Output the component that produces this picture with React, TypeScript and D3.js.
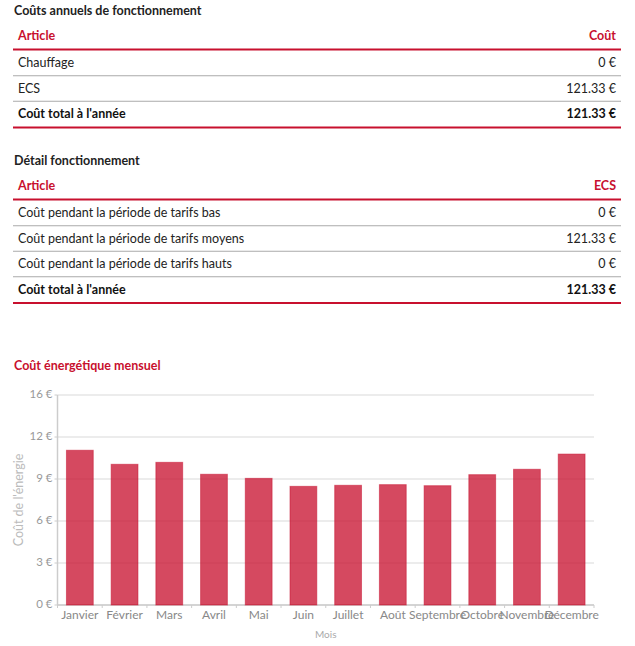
import React, { useEffect, useRef } from "react";
import * as d3 from "d3";

const table1Title = "Coûts annuels de fonctionnement";
const table1Header = ["Article", "Coût"];
const table1Labels = ["Chauffage", "ECS"];
const table1Values = [0, 121.33];
const table1Total = 121.33;

const table2Title = "Détail fonctionnement";
const table2Header = ["Article", "ECS"];
const table2Labels = [
  "Coût pendant la période de tarifs bas",
  "Coût pendant la période de tarifs moyens",
  "Coût pendant la période de tarifs hauts",
];
const table2Values = [0, 121.33, 0];
const table2Total = 121.33;
const totalLabel = "Coût total à l'année";

const chartTitle = "Coût énergétique mensuel";
const months = [
  "Janvier", "Février", "Mars", "Avril", "Mai", "Juin",
  "Juillet", "Août", "Septembre", "Octobre", "Novembre", "Décembre",
];
const monthlyCost = [11.79, 10.72, 10.87, 9.96, 9.65, 9.04, 9.12, 9.17, 9.09, 9.93, 10.34, 11.5];
const yMax = 16;
const yTickCount = 5;
const xAxisLabel = "Mois";
const yAxisLabel = "Coût de l'énergie";

const RED = "#c8102e";
const FONT = "Lato, 'Noto Sans', sans-serif";
const fmtEuro = (v: number) => (v === 0 ? "0 €" : `${v.toFixed(2)} €`);

function Table({ top, title, header, labels, values, total }: any) {
  const x0 = 13, x1 = 621;
  const headerY = top + 25;
  const lineY = headerY + 13.5;
  const rowH = 25.5;
  const rows = labels.map((l: string, i: number) => ({ l, v: values[i] }));
  const totalY = lineY + 13.5 + rows.length * rowH;
  return (
    <g fontFamily={FONT}>
      <text x={14} y={top} dy="0.35em" fontSize={12.5} fontWeight="bold" fill="#222">{title}</text>
      <text x={18} y={headerY} dy="0.35em" fontSize={12.5} fontWeight="bold" fill={RED}>{header[0]}</text>
      <text x={616} y={headerY} dy="0.35em" fontSize={12.5} fontWeight="bold" fill={RED} textAnchor="end">{header[1]}</text>
      <line x1={x0} x2={x1} y1={lineY} y2={lineY} stroke={RED} strokeWidth={2} />
      {rows.map((r: any, i: number) => {
        const cy = lineY + 13.5 + i * rowH;
        return (
          <g key={i}>
            <text x={18} y={cy} dy="0.35em" fontSize={12.5} fill="#222">{r.l}</text>
            <text x={616} y={cy} dy="0.35em" fontSize={12.5} fill="#222" textAnchor="end">{fmtEuro(r.v)}</text>
            <line x1={x0} x2={x1} y1={cy + 12.75} y2={cy + 12.75} stroke="#aaa" strokeWidth={1} />
          </g>
        );
      })}
      <text x={18} y={totalY} dy="0.35em" fontSize={12.5} fontWeight="bold" fill="#111">{totalLabel}</text>
      <text x={616} y={totalY} dy="0.35em" fontSize={12.5} fontWeight="bold" fill="#111" textAnchor="end">{fmtEuro(total)}</text>
      <line x1={x0} x2={x1} y1={totalY + 13.5} y2={totalY + 13.5} stroke={RED} strokeWidth={2} />
    </g>
  );
}

function BarChart() {
  const ref = useRef<SVGGElement>(null);
  useEffect(() => {
    const g = d3.select(ref.current);
    g.selectAll("*").remove();
    const left = 57.5, right = 594, top = 395, bottom = 605;
    const x = d3.scaleBand().domain(months).range([left, right]).paddingInner(0.4).paddingOuter(0.2);
    const y = d3.scaleLinear().domain([0, yMax]).range([bottom, top]);
    const ticks = d3.range(yTickCount + 1).map((i) => (yMax * i) / yTickCount);

    g.append("g").selectAll("line").data(ticks).join("line")
      .attr("x1", left).attr("x2", right)
      .attr("y1", (d) => y(d)).attr("y2", (d) => y(d))
      .attr("stroke", "#e6e6e6").attr("stroke-width", 1.5);

    g.append("g").selectAll("text").data(ticks).join("text")
      .attr("x", left - 5).attr("y", (d) => y(d) - 1).attr("dy", "0.35em")
      .attr("text-anchor", "end").attr("font-size", 11.5).attr("fill", "#999")
      .attr("font-family", FONT)
      .text((d) => `${Math.floor(d)} €`);
    g.append("g").selectAll("line").data(ticks).join("line")
      .attr("x1", left - 3).attr("x2", left)
      .attr("y1", (d) => y(d)).attr("y2", (d) => y(d))
      .attr("stroke", "#ccc");

    g.append("line").attr("x1", left).attr("x2", left).attr("y1", top).attr("y2", bottom)
      .attr("stroke", "#ccc").attr("stroke-width", 1.5);
    g.append("line").attr("x1", left).attr("x2", right).attr("y1", bottom).attr("y2", bottom)
      .attr("stroke", "#ccc").attr("stroke-width", 1.5);

    const bounds = d3.range(months.length + 1).map((i) => left + i * x.step());
    g.append("g").selectAll("line").data(bounds).join("line")
      .attr("x1", (d) => d).attr("x2", (d) => d)
      .attr("y1", bottom).attr("y2", bottom + 3).attr("stroke", "#ccc");

    g.append("g").selectAll("rect").data(monthlyCost).join("rect")
      .attr("x", (_d, i) => x(months[i])!)
      .attr("width", x.bandwidth())
      .attr("y", (d) => y(d))
      .attr("height", (d) => bottom - y(d))
      .attr("fill", RED).attr("fill-opacity", 0.76)
      .attr("stroke", RED).attr("stroke-opacity", 0.5).attr("stroke-width", 1);

    g.append("g").selectAll("text").data(months).join("text")
      .attr("x", (d) => x(d)! + x.bandwidth() / 2).attr("y", bottom + 10).attr("dy", "0.35em")
      .attr("text-anchor", "middle").attr("font-size", 12).attr("fill", "#888")
      .attr("font-family", FONT)
      .text((d) => d);

    g.append("text").attr("x", (left + right) / 2).attr("y", 634).attr("dy", "0.35em")
      .attr("text-anchor", "middle").attr("font-size", 10).attr("fill", "#aaa")
      .attr("font-family", FONT).text(xAxisLabel);

    g.append("text").attr("transform", `translate(19,${(top + bottom) / 2}) rotate(-90)`)
      .attr("dy", "0.35em").attr("text-anchor", "middle").attr("font-size", 12.5)
      .attr("fill", "#bbb").attr("font-family", FONT).text(yAxisLabel);
  }, []);
  return <g ref={ref} />;
}

export default function App() {
  return (
    <svg width={635} height={646} style={{ position: "absolute", left: 0, top: 0, background: "#fff" }}>
      <Table top={11} title={table1Title} header={table1Header} labels={table1Labels} values={table1Values} total={table1Total} />
      <Table top={161} title={table2Title} header={table2Header} labels={table2Labels} values={table2Values} total={table2Total} />
      <text x={14} y={366} dy="0.35em" fontSize={12.5} fontWeight="bold" fill={RED} fontFamily={FONT}>{chartTitle}</text>
      <BarChart />
    </svg>
  );
}
